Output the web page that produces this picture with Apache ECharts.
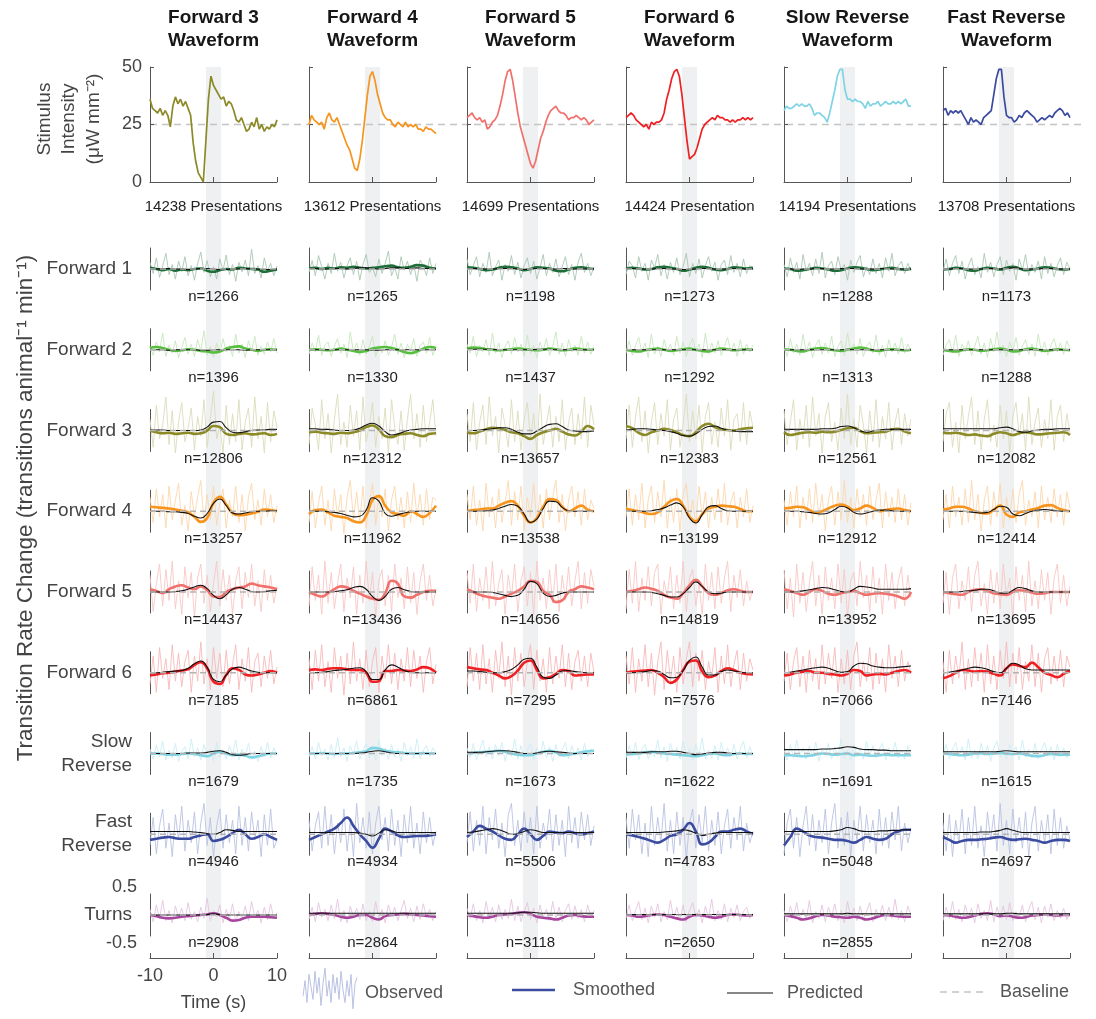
<!DOCTYPE html>
<html>
<head>
<meta charset="utf-8">
<script src="https://cdn.jsdelivr.net/npm/echarts/dist/echarts.min.js"></script>
<style>
html, body { margin: 0; padding: 0; background: #fff; }
#chart { width: 1096px; height: 1019px; }
</style>
</head>
<body>
<div id="chart"></div>
<script>
// ---------- stimulus waveforms (µW mm^-2), sampled every 0.4 s from -10 s to 10 s ----------
const waveFwd3 = [36,32,31,30,32,29,31,29,24,33,37,34,36,33,35,32,29,17,9,4,2,0,18,36,46,42,40,38,36,37,33,35,34,31,27,26,28,25,22,23,26,24,28,23,25,22,24,23,25,24,27];
const waveFwd4 = [25,29,27,26,25,26,23,28,30,27,26,28,25,22,19,16,14,10,6,5,10,18,28,38,46,48,44,38,34,30,28,27,27,25,24,26,25,24,26,24,25,24,25,23,23,22,24,23,23,22,21];
const waveFwd5 = [28,29,30,28,27,28,26,27,23,24,26,27,29,33,38,44,48,49,44,37,30,24,20,16,12,8,6,9,14,19,22,26,29,31,32,33,31,30,30,29,27,28,28,29,28,27,28,27,25,26,27];
const waveFwd6 = [28,29,30,29,27,26,25,24,25,23,26,25,26,26,27,30,36,40,45,48,49,46,38,28,18,10,11,12,15,19,23,25,26,27,28,27,29,28,28,27,27,26,27,26,27,27,28,27,28,27,28];
const waveSlowRev = [31,33,32,32,33,34,33,34,33,33,34,32,29,30,30,29,28,26,30,35,40,46,49,49,40,36,36,35,36,35,35,34,32,35,33,34,34,35,33,34,35,34,34,35,34,35,34,35,36,33,33];
const waveFastRev = [31,32,29,31,30,31,30,31,29,27,25,28,26,27,26,25,28,29,30,31,38,45,49,49,37,29,28,28,26,27,29,28,30,31,30,29,28,26,27,28,27,28,29,28,30,31,32,31,29,30,28];

const waveTitles = ['Forward 3\nWaveform', 'Forward 4\nWaveform', 'Forward 5\nWaveform', 'Forward 6\nWaveform', 'Slow Reverse\nWaveform', 'Fast Reverse\nWaveform'];
const presentations = ['14238 Presentations', '13612 Presentations', '14699 Presentations', '14424 Presentation', '14194 Presentations', '13708 Presentations'];
const waveTicks = [0, 25, 50];
const baselineIntensity = 25;
const stimBand = [-1.2, 1.2];
const timeRange = [-10, 10];

// ---------- behavioural responses, in 0.01 transitions animal^-1 min^-1 ----------
// observed: every 0.5 s; smoothed and predicted: every 1 s
const rowNames = ['Forward 1', 'Forward 2', 'Forward 3', 'Forward 4', 'Forward 5', 'Forward 6', 'Slow\nReverse', 'Fast\nReverse', 'Turns'];

const nF1 = [1266, 1265, 1198, 1273, 1288, 1173];
const nF2 = [1396, 1330, 1437, 1292, 1313, 1288];
const nF3 = [12806, 12312, 13657, 12383, 12561, 12082];
const nF4 = [13257, 11962, 13538, 13199, 12912, 12414];
const nF5 = [14437, 13436, 14656, 14819, 13952, 13695];
const nF6 = [7185, 6861, 7295, 7576, 7066, 7146];
const nSR = [1679, 1735, 1673, 1622, 1691, 1615];
const nFR = [4946, 4934, 5506, 4783, 5048, 4697];
const nT  = [2908, 2864, 3118, 2650, 2855, 2708];

const obsF1 = [
  [12,-8,20,-15,5,28,-10,8,-18,14,-5,22,-12,6,-20,10,30,-6,15,-14,4,-18,18,-3,25,-10,8,-22,12,-5,16,-12,35,-8,6,-16,20,-4,10,-12,5],
  [-6,15,-12,24,4,-18,10,-8,28,-4,12,-16,6,20,-10,14,-20,8,26,-6,2,-14,18,-8,10,32,-12,4,-18,22,-2,14,-10,8,-22,16,6,-12,20,-8,10],
  [18,-10,6,22,-14,10,-6,30,-12,4,16,-20,8,-4,24,-10,12,-16,6,20,-8,14,-18,2,26,-12,10,-6,18,-14,4,22,-10,8,-20,12,28,-6,10,-12,4],
  [-10,14,6,-16,22,-4,10,-20,16,2,26,-12,8,-18,12,-6,20,-10,4,28,-14,10,-8,18,-16,6,22,-4,12,-20,8,16,-10,24,-6,10,-14,18,-8,6,2],
  [8,-14,20,-6,12,-18,26,-4,10,-12,18,-8,30,-16,6,14,-10,22,-2,8,-20,16,-6,12,24,-14,4,-10,18,-8,10,-16,20,-4,28,-12,6,14,-8,10,-4],
  [-4,18,-12,10,24,-8,14,-18,6,20,-10,4,-16,28,-6,12,-14,8,22,-10,16,-4,10,-20,18,-2,26,-12,8,-6,14,-18,22,-8,10,-14,6,20,-10,12,0]
];
const smF1 = [
  [2,0,-2,0,-3,-1,-2,0,1,-3,-5,-2,0,-1,2,1,0,-1,-5,-3,-1],
  [1,2,0,2,1,3,2,4,2,1,2,3,5,6,3,2,4,7,6,2,1],
  [3,2,0,-2,-1,2,4,3,1,-2,0,3,2,1,-3,-4,-1,2,3,1,0],
  [0,2,1,-1,0,3,4,2,0,-3,-1,2,4,2,-1,-2,0,3,2,1,2],
  [1,0,-3,-2,0,2,1,-1,-3,-2,1,3,2,0,-2,-1,1,2,0,-1,1],
  [-1,0,2,1,-2,-3,0,2,1,-1,2,4,1,-2,-1,1,3,2,0,-1,0]
];
const predF1 = [
  [0,0,1,1,0,0,-1,0,1,1,0,-1,-1,0,0,1,1,0,-1,-1,0],
  [1,1,0,0,1,1,0,1,2,2,1,0,1,2,2,1,1,2,1,1,1],
  [0,1,1,0,0,1,1,1,0,-1,0,1,1,0,0,1,1,0,0,0,0],
  [1,1,0,0,0,1,1,0,0,-1,-1,0,1,1,0,0,0,1,1,0,0],
  [0,0,-1,0,0,1,1,0,0,1,1,1,0,0,0,1,1,0,0,0,0],
  [0,0,1,1,0,0,0,1,1,0,1,2,1,0,0,0,1,1,0,0,0]
];

const obsF2 = [
  [6,-10,14,-4,30,-12,8,-6,16,-14,4,22,-8,10,-12,18,-2,34,-10,6,-14,12,-6,20,-4,8,-12,28,-6,10,-14,16,-2,24,-10,6,-8,14,-4,20,-6],
  [-8,12,-4,26,-10,8,14,-12,6,20,-6,10,-14,32,-4,12,-10,18,-8,6,24,-12,8,-6,16,-10,4,28,-8,12,-14,10,-2,20,-12,8,14,-6,22,-10,4],
  [10,-6,24,-12,8,-4,18,-10,30,-6,12,-14,6,16,-8,22,-4,10,-12,26,-6,8,-14,14,-2,20,-10,6,32,-8,12,-12,18,-4,8,-10,24,-6,14,-8,6],
  [-6,16,-10,8,22,-4,12,-14,28,-8,6,-12,18,-2,10,-10,24,-6,14,-12,8,20,-4,10,-14,30,-8,12,-6,16,-10,6,22,-4,12,-12,18,-8,10,-4,8],
  [4,-12,20,-6,10,-10,28,-4,14,-14,8,18,-8,12,-6,24,-12,6,16,-10,30,-4,10,-8,20,-12,6,14,-6,26,-10,8,-14,18,-4,12,-8,22,-6,10,-2],
  [-10,8,18,-6,26,-12,10,-4,16,-10,6,24,-8,12,-14,20,-4,32,-6,8,-12,14,-2,22,-10,6,18,-8,10,-12,28,-6,14,-10,8,20,-4,12,-8,16,0]
];
const smF2 = [
  [3,5,3,0,-2,-1,1,0,-2,-3,-5,-3,2,5,6,2,0,-2,0,1,0],
  [0,1,0,-1,0,2,0,-2,-4,-2,2,4,5,3,0,-4,-6,-3,2,5,3],
  [2,4,3,1,0,-1,0,1,2,1,0,-1,0,2,1,-1,0,2,1,0,1],
  [0,-2,-3,-1,1,2,0,-2,-1,1,2,0,-2,-3,0,2,1,-1,0,1,0],
  [1,0,-2,-3,0,2,3,1,-1,-2,0,2,4,2,-1,-2,0,1,0,-1,0],
  [0,-2,-3,-1,1,0,-2,-1,1,2,0,-3,-2,1,2,0,-2,-1,1,0,-1]
];
const predF2 = [
  [1,0,0,-1,0,0,0,0,-1,-1,0,0,0,0,0,-1,0,0,0,0,0],
  [0,0,0,0,0,0,0,0,0,0,-1,-1,0,0,0,0,0,0,0,0,0],
  [1,1,1,1,1,0,0,0,0,0,0,1,1,1,0,0,0,0,0,0,0],
  [0,0,0,0,0,0,0,0,0,0,0,0,0,0,0,0,0,0,0,0,0],
  [0,0,0,0,0,0,0,0,0,0,1,0,0,0,0,0,0,0,0,0,0],
  [0,0,0,0,0,0,0,0,0,0,0,0,0,0,0,0,0,0,0,0,0]
];

const obsF3 = [
  [20,-30,45,-15,10,60,-25,35,-40,15,50,-20,5,40,-35,25,-10,55,-30,20,70,-15,10,-40,45,-25,30,-20,55,-35,15,40,-30,60,-15,25,-40,50,-20,35,5],
  [-25,40,10,-35,55,-15,30,-40,20,65,-25,15,-30,45,-10,35,-35,60,-20,10,50,-30,25,-15,40,-40,55,5,-25,35,-35,20,65,-15,30,-30,45,-20,15,55,-10],
  [30,-20,50,-35,15,45,-25,60,-10,25,-40,40,10,-30,55,-20,35,-35,20,50,-15,30,-40,65,-25,10,45,-30,25,-20,55,-35,15,40,-25,30,-15,60,-30,45,10],
  [-15,45,-30,25,60,-20,35,-40,15,50,-25,30,-10,55,-35,20,40,-30,10,65,-20,35,-15,45,-40,25,50,-25,15,-30,40,-10,55,-35,20,30,-20,50,-25,35,5],
  [35,-25,15,55,-35,20,-15,45,-30,60,-10,30,-40,25,50,-20,15,-35,40,-15,65,-25,20,-30,45,10,-40,35,-20,55,-30,25,-15,50,-35,15,40,-25,30,-10,20],
  [-20,30,50,-30,15,-40,45,-15,25,60,-25,35,-35,20,55,-20,10,-30,45,-15,35,-40,25,50,-10,30,-35,60,-25,15,40,-30,20,-15,55,-35,25,45,-20,30,-5]
];
const smF3 = [
  [0,-3,-5,-4,-6,-5,-4,-6,-5,0,8,6,-6,-8,-6,-5,-7,-6,-5,-8,-6],
  [-3,-2,-4,-5,-6,-4,-5,-3,0,6,9,2,-10,-12,-8,-6,-5,-8,-10,-6,-5],
  [-3,-5,-2,2,5,4,1,-3,-5,-10,-15,-8,-3,0,3,-2,-7,-9,-2,8,2],
  [8,4,-4,-8,-3,0,3,1,-3,-8,-10,-3,8,12,6,2,1,0,2,4,5],
  [-3,-8,-6,-4,-3,-4,-2,-3,-2,1,4,5,-1,-5,-4,-3,-2,2,3,-2,-5],
  [-3,-5,-4,-6,-8,-7,-9,-10,-6,-3,-5,-8,-5,-3,-5,-7,-6,-5,-4,-3,-8]
];
const predF3 = [
  [1,1,1,0,0,0,0,0,1,6,15,16,5,-3,-4,-2,0,1,1,2,2],
  [3,3,2,2,1,0,0,1,4,10,13,8,-2,-8,-6,-2,1,2,3,3,3],
  [0,0,1,2,3,5,5,2,-3,-6,-6,-1,6,11,12,7,1,-1,-2,-2,-1],
  [1,2,3,3,2,1,0,-2,-5,-9,-10,-6,2,7,8,4,1,-1,-2,-2,-2],
  [2,2,2,2,2,2,3,3,4,7,8,5,-1,-3,-1,1,2,2,2,2,2],
  [3,3,3,3,3,3,3,3,3,5,6,3,-2,-3,-1,1,2,2,3,3,3]
];

const obsF4 = [
  [25,-20,40,-10,30,-30,45,-15,20,50,-25,10,-35,35,-10,25,55,-20,30,-15,45,-25,15,40,-30,20,-10,45,-20,30,-35,25,50,-15,20,-25,40,-10,30,-20,10],
  [-20,35,-30,15,45,-25,20,-35,40,-10,30,-40,25,55,-15,35,-20,45,-30,15,50,-25,30,-10,40,-35,20,45,-15,25,-30,35,-20,50,-10,30,-25,40,-15,25,20],
  [30,-15,45,-25,20,-35,50,-10,25,-30,40,-20,15,55,-25,35,-15,45,-35,25,-10,50,-20,30,-30,40,-15,25,55,-20,30,-35,20,45,-10,35,-25,40,-15,20,5],
  [-10,40,-25,30,-15,50,-30,20,45,-20,35,-10,55,-30,25,-20,40,-35,30,50,-15,20,-25,45,-10,35,-30,25,-15,40,-20,50,-25,15,35,-30,25,-10,40,-20,10],
  [20,-25,35,-10,45,-30,25,-15,40,-20,50,-10,30,-35,20,45,-25,35,-15,55,-20,25,-30,40,-10,30,-25,45,-15,20,50,-30,35,-10,25,-20,40,-15,30,-25,15],
  [-15,30,-30,45,-10,25,-25,40,-20,55,-15,30,-35,20,45,-25,35,-10,50,-30,25,-15,40,-20,30,55,-25,20,-10,35,-30,45,-15,25,-20,40,-10,30,-25,35,5]
];
const smF4 = [
  [8,7,6,5,3,1,-2,-10,-19,-12,15,26,12,-3,-7,-6,-4,-1,3,2,0],
  [-5,2,3,-2,-8,-10,-12,-18,-20,-8,20,27,10,-2,-5,-8,0,-5,-10,-3,10],
  [0,2,3,5,5,10,15,18,10,-8,-20,-12,8,22,20,8,0,5,10,3,0],
  [5,2,0,-3,-5,-2,8,18,22,10,-10,-18,-5,5,8,10,9,8,4,0,0],
  [5,6,8,7,2,-2,0,5,10,12,8,2,5,10,6,0,2,4,5,2,0],
  [3,5,8,8,5,0,-3,-4,3,10,-6,-10,-2,0,3,6,10,11,6,2,0]
];
const predF4 = [
  [0,0,0,-1,-1,-2,-4,-9,-12,-4,14,22,10,-3,-5,-3,-1,0,0,1,1],
  [0,0,0,-1,-2,-4,-7,-10,-9,2,24,18,-4,-9,-6,-3,-1,0,0,0,0],
  [0,0,0,1,2,5,9,12,9,-5,-20,-14,5,18,17,7,1,0,0,0,0],
  [0,0,0,0,1,3,6,11,15,8,-12,-21,-6,8,10,5,1,0,0,0,0],
  [0,0,0,-1,-2,-4,-5,-3,3,9,6,-2,-5,-3,0,2,2,1,0,0,0],
  [0,0,0,0,-1,-2,-3,-2,3,9,7,-5,-8,-4,0,2,3,2,1,0,0]
];

const obsF5 = [
  [30,-35,15,50,-25,40,-15,55,-30,20,-40,45,-10,35,-45,25,50,-20,30,-35,15,55,-25,40,-15,30,-40,20,45,-30,35,-10,50,-25,20,-35,40,-15,30,-20,10],
  [-25,45,-15,30,-40,55,-20,35,-30,15,50,-35,25,-10,45,-40,30,-20,55,-15,35,-45,20,40,-25,30,-35,50,-10,25,-30,45,-20,35,-40,20,50,-15,30,-25,5],
  [35,-20,50,-35,25,-15,45,-30,55,-25,15,40,-40,30,-10,50,-35,20,45,-25,35,-40,55,-15,25,-30,40,-20,50,-35,30,-15,45,-25,20,55,-30,35,-20,40,10],
  [-30,40,-20,55,-35,25,-15,45,-25,35,50,-40,20,-10,45,-30,30,-20,55,-35,25,40,-25,15,-40,50,-15,35,-30,45,-20,25,55,-35,30,-10,40,-25,20,-15,5],
  [40,-30,25,-45,50,-20,35,-35,15,55,-25,30,-40,45,-15,25,-30,50,-20,40,-45,20,35,-25,55,-10,30,-35,45,-20,25,-40,50,-15,35,-30,20,45,-25,30,-10],
  [-20,35,-40,25,50,-30,20,-15,45,-35,30,55,-25,15,-40,40,-20,35,-30,50,-10,25,-45,45,-15,30,-35,55,-25,20,-30,40,-15,35,-40,25,50,-20,30,-25,10]
];
const smF5 = [
  [5,2,-2,5,10,12,8,5,10,3,-8,-9,0,5,8,10,15,12,10,8,5],
  [0,-5,-8,-2,5,10,8,2,-3,-8,-12,-14,-2,20,15,-8,-10,-5,0,2,2],
  [5,0,-5,-8,-10,-12,-8,-3,2,10,20,18,2,-5,-18,-15,0,5,10,8,5],
  [0,2,5,8,6,2,-5,-10,-12,-2,12,22,10,-2,-5,-2,3,5,2,0,0],
  [5,2,-2,-5,0,5,2,-3,-5,-2,0,2,-2,-5,-3,-2,-3,-5,-8,-12,0],
  [0,-2,-4,-5,0,4,5,2,-2,-4,-5,0,3,2,-1,-3,-2,0,0,0,0]
];
const predF5 = [
  [0,0,0,0,1,2,5,9,12,6,-6,-12,-5,5,8,5,1,0,1,2,3],
  [0,0,0,0,1,2,4,8,10,5,-8,-15,-8,5,8,4,1,0,0,0,0],
  [0,0,0,0,-1,-3,-6,-8,-6,5,19,15,-2,-8,-6,-2,0,0,0,0,0],
  [0,0,0,0,-1,-3,-6,-9,-9,-3,8,18,10,0,-3,-2,0,0,0,0,0],
  [0,0,1,2,4,6,8,7,4,1,0,5,10,9,7,5,5,5,5,5,6],
  [0,0,0,1,2,3,5,5,2,-2,-2,3,8,6,2,0,0,0,0,0,0]
];

const obsF6 = [
  [-20,30,-35,45,-10,25,-30,50,-15,35,-25,20,40,-35,30,-15,55,-20,25,-30,45,-10,35,-25,40,-20,15,50,-30,25,-15,45,-35,20,35,-25,30,-10,40,-20,10],
  [25,-30,40,-15,50,-25,20,-35,45,-10,30,-40,35,-20,55,-15,25,-30,40,-25,20,45,-35,30,-10,50,-20,35,-30,25,-15,45,-25,40,-10,30,-35,20,45,-20,15],
  [-25,45,-15,35,-30,50,-20,25,-35,40,-10,55,-25,30,-40,45,-15,35,-25,20,50,-30,40,-15,25,-35,45,-20,30,-10,50,-25,35,-30,20,40,-15,30,-25,35,0],
  [30,-20,45,-35,25,-15,50,-25,35,-40,20,55,-30,40,-15,30,-35,45,-20,25,55,-25,35,-15,40,-30,20,-10,45,-35,30,-20,50,-25,15,40,-30,35,-15,25,5],
  [-15,35,-30,20,45,-25,30,-35,40,-15,25,-30,50,-20,35,-10,45,-35,25,-20,40,-30,30,55,-25,20,-15,45,-30,35,-20,25,-35,50,-10,30,-25,40,-15,20,0],
  [20,-35,40,-20,30,-10,55,-30,25,-25,45,-15,35,-35,50,-20,30,-30,40,-10,55,-25,35,-20,45,-30,20,-15,50,-25,35,-35,25,45,-20,30,-15,40,-25,30,10]
];
const smF6 = [
  [-5,-3,-1,0,2,4,6,14,19,8,-16,-20,-4,8,5,-3,-5,-3,0,3,0],
  [5,6,5,7,8,8,6,5,5,0,-16,-15,3,3,5,4,3,6,10,8,0],
  [10,8,6,5,0,-5,-10,-6,4,18,22,5,-10,-8,-2,5,3,-5,-4,-3,-3],
  [0,2,3,4,5,0,-8,-18,-12,5,20,22,2,-8,-5,3,8,5,0,-2,-3],
  [-5,-3,0,2,3,0,0,-2,-3,-5,-2,5,3,-5,-3,-2,-3,0,3,5,0],
  [-10,-6,0,5,4,2,3,2,-2,-5,8,15,12,10,18,10,0,-4,-8,-2,3]
];
const predF6 = [
  [0,0,1,2,3,4,8,16,21,10,-12,-16,-4,7,10,7,3,1,0,0,0],
  [0,0,1,2,4,5,6,8,9,2,-12,-12,5,14,10,4,1,0,0,0,0],
  [3,3,2,1,0,0,2,6,14,24,26,10,-8,-10,-4,3,4,2,1,0,0],
  [0,0,1,2,4,3,-3,-9,-8,4,22,28,10,-4,-4,2,5,3,1,0,0],
  [0,1,3,5,7,9,10,8,4,1,2,12,17,16,12,10,9,9,10,11,12],
  [0,1,3,5,8,10,9,6,2,0,8,17,14,7,5,5,5,5,5,5,5]
];

const obsSR = [
  [8,-10,15,-6,22,-12,6,-8,18,-14,4,12,-10,26,-6,10,-12,16,-4,8,-14,20,-8,6,-10,14,-2,24,-12,8,-6,18,-10,4,-14,12,-6,20,-8,10,-4],
  [-6,12,-10,20,-4,8,-12,16,-8,28,-6,10,-14,14,-2,22,-10,6,18,-8,12,-12,24,-4,10,-10,16,-6,8,-14,20,-4,12,-8,26,-10,6,14,-6,10,2],
  [10,-8,18,-12,6,24,-6,12,-10,16,-4,20,-14,8,-6,26,-10,14,-8,6,18,-12,10,-4,22,-8,12,-14,16,-6,8,20,-10,14,-4,10,-12,18,-6,8,4],
  [-8,14,-4,20,-12,8,16,-10,6,-6,24,-8,12,-14,18,-4,10,-10,22,-6,8,-12,16,-2,28,-10,6,-8,14,-12,20,-4,10,-6,16,-10,8,22,-8,12,-2],
  [6,-12,16,-8,24,-4,10,-10,14,-6,20,-14,8,-4,18,-10,12,-6,26,-8,6,-12,16,-4,10,-10,22,-6,14,-8,8,18,-12,10,-4,20,-8,6,-10,14,0],
  [-4,16,-10,8,20,-6,12,-12,26,-8,6,-10,18,-4,14,-14,10,22,-6,8,-10,16,-2,12,-12,24,-6,8,-8,18,-10,6,20,-4,12,-12,16,-6,10,-8,4]
];
const smSR = [
  [0,0,-1,-2,-2,-1,0,-1,-3,-5,0,3,0,-3,-2,-4,-7,-5,-2,0,0],
  [0,0,1,0,-1,0,0,1,2,4,10,9,5,3,2,1,0,0,1,0,0],
  [0,1,2,3,4,5,3,0,-2,-3,-3,0,3,5,2,-3,-2,0,2,4,5],
  [-2,-1,0,2,3,2,0,-1,-2,-3,-4,-5,-3,-1,0,-2,-3,-1,0,-1,-1],
  [-3,-3,-4,-5,-4,-2,0,-1,-2,-1,0,-3,-2,-3,-4,-3,-2,-3,-3,-3,-3],
  [0,-1,-2,-3,-2,0,0,-1,0,1,0,-1,0,-2,-4,-5,-3,-1,-2,-2,-2]
];
const predSR = [
  [0,0,0,0,0,0,1,1,1,2,4,5,2,-2,-3,-2,0,0,0,0,0],
  [0,0,0,0,0,0,0,0,1,2,4,5,3,1,0,0,0,0,0,0,0],
  [2,2,2,3,4,5,5,4,2,0,0,1,3,4,3,2,1,0,0,0,0],
  [2,2,2,2,3,3,3,4,4,2,0,-2,-1,1,2,2,1,0,0,0,0],
  [7,7,7,7,7,7,8,8,9,10,12,11,8,7,7,6,6,5,5,5,5],
  [3,3,3,3,3,3,3,3,3,4,5,4,3,3,3,3,3,3,3,3,3]
];

const obsFR = [
  [-20,30,-35,15,45,-25,20,-40,35,-10,50,-30,25,-15,40,-35,20,55,-20,30,-40,15,45,-25,35,-15,25,-35,50,-20,30,-30,40,-10,25,-40,35,-20,45,-25,-10],
  [25,-30,15,40,-25,50,-20,35,-35,20,-15,45,-30,25,-40,55,-15,30,-25,40,-35,20,50,-10,30,-30,45,-20,25,-40,35,-15,50,-25,20,-35,40,-15,30,-20,5],
  [-15,40,-30,25,-20,50,-35,30,-10,45,-25,20,-40,35,55,-20,25,-30,40,-15,30,-35,50,-25,20,-10,45,-30,35,-20,25,-40,50,-15,30,-25,40,-10,35,-20,15],
  [30,-25,45,-10,35,-35,20,-40,50,-20,30,-15,55,-30,25,-35,40,-20,30,-45,20,45,-25,35,-15,50,-30,25,-20,40,-35,15,45,-25,30,-10,50,-30,20,-15,5],
  [-35,20,45,-25,30,-40,15,50,-20,35,-30,25,-15,45,-35,20,55,-25,30,-20,40,-40,25,-10,50,-30,35,-15,25,-35,45,-20,30,-25,40,-10,50,-30,20,-15,10],
  [20,-30,35,-40,25,-15,45,-35,30,-20,50,-25,15,-40,40,-10,35,-30,55,-20,25,-35,45,-15,30,-25,40,-40,20,50,-30,25,-15,35,-35,45,-20,30,-25,15,-10]
];
const smFR = [
  [-10,-8,-6,-5,-7,-8,-8,-5,-2,0,-12,-10,-5,2,8,0,-8,-5,0,-5,-10],
  [-10,-5,0,5,10,20,30,15,0,-12,-24,-8,10,5,-2,-5,-4,-3,-3,-2,0],
  [-5,5,15,10,5,-2,-8,-10,0,10,0,-10,-3,5,3,2,5,2,0,2,5],
  [0,-2,-5,-8,-12,-15,-10,-3,0,8,20,5,-18,-15,-5,5,5,8,10,5,0],
  [-20,-5,10,5,-2,-5,-6,-8,-10,-10,-12,-15,-10,-5,-8,-10,-8,0,5,8,8],
  [-5,-10,-15,-12,-10,-10,-9,-8,-6,-5,-8,-10,-9,-8,-10,-12,-15,-12,-10,-10,-12]
];
const predFR = [
  [5,5,5,5,5,5,5,4,3,1,0,3,8,7,5,5,5,5,5,5,5],
  [3,3,3,3,3,3,3,3,2,0,-3,2,8,6,3,3,3,3,3,3,3],
  [3,4,6,8,10,8,4,0,1,5,8,6,3,3,3,3,3,3,3,3,3],
  [3,3,3,3,3,3,4,5,6,8,6,2,-2,0,2,3,3,3,3,3,3],
  [5,5,5,5,5,5,5,5,6,8,12,10,6,5,5,6,6,7,7,8,8],
  [3,3,3,3,3,3,4,4,5,7,10,7,4,3,3,3,3,3,3,3,3]
];

const obsT = [
  [10,-12,18,-6,26,-10,8,-14,16,-4,12,-10,22,-8,6,-12,14,-6,30,-10,8,-4,18,-14,10,-8,20,-12,6,-6,16,-10,24,-4,8,-14,14,-8,20,-6,4],
  [-8,14,-12,22,-4,10,-10,18,-6,28,-12,8,-14,16,-4,12,-8,20,-10,6,-12,24,-6,10,-14,18,-2,14,-10,8,26,-6,12,-12,16,-8,20,-4,10,-10,6],
  [12,-6,20,-10,8,-14,24,-4,14,-12,18,-8,10,-6,28,-10,16,-12,6,22,-8,12,-14,18,-4,10,-10,24,-6,14,-12,8,20,-8,16,-6,10,-12,18,-4,8],
  [-6,18,-10,8,24,-8,12,-14,16,-4,20,-12,6,-8,26,-6,14,-10,18,-12,8,22,-4,10,-14,16,-6,28,-10,8,-8,20,-12,12,-4,18,-10,6,14,-6,2],
  [8,-12,16,-4,22,-10,10,-8,26,-14,6,-6,18,-12,14,-4,20,-10,8,-14,24,-6,12,-10,16,-8,6,22,-12,10,-4,18,-10,14,-6,28,-8,8,-12,16,0],
  [-10,14,-6,24,-8,10,-12,18,-4,12,-14,20,-6,8,-10,26,-12,14,-4,16,-8,22,-10,6,-6,18,-12,10,24,-8,14,-14,16,-4,20,-10,8,-6,12,-8,4]
];
const smT = [
  [0,-2,-5,-6,-5,-3,-2,-1,0,1,3,0,-5,-10,-9,-5,-3,-3,-3,-4,-5],
  [0,2,3,2,0,-3,-5,-3,0,0,-5,-8,-2,0,1,2,1,0,-1,-2,-3],
  [0,-2,-4,-5,-3,0,1,2,4,5,2,-3,-5,-6,-8,-5,-1,0,-2,-3,-3],
  [0,-1,-3,-2,0,1,0,-3,-6,-8,-3,0,-1,-3,-5,-3,0,1,0,-1,0],
  [0,-2,-5,-8,-6,-2,0,-1,-3,-4,-5,-3,-5,-8,-6,-2,0,-1,-2,-3,-3],
  [0,-1,-3,-5,-4,-1,2,3,1,-2,-1,-3,-5,-4,-1,0,1,0,-1,0,0]
];
const predT = [
  [0,0,0,0,0,0,0,0,0,1,2,1,0,0,0,0,0,0,0,0,0],
  [3,3,3,3,3,3,3,3,3,3,3,3,3,3,3,3,3,3,3,3,3],
  [3,3,3,3,3,3,3,3,4,5,5,4,3,3,3,3,3,3,3,3,3],
  [1,1,1,1,1,1,1,1,1,1,1,1,1,1,1,1,1,1,1,1,1],
  [2,2,2,2,2,2,2,2,2,2,3,2,2,2,2,2,2,2,2,2,2],
  [2,2,2,2,2,2,2,2,2,2,3,3,2,2,2,2,2,2,2,2,2]
];

const turnsTicks = [-50, 50];
const legendTrace = [-10,15,-20,25,5,-15,30,-5,20,-25,10,35,-10,15,-20,25,-5,20,-15,30,0,-20,15,-10,25,-30,10,20];

// ---------- styling ----------
const waveColors = ['#8b8a27', '#f7941d', '#f0706c', '#ee2024', '#7fd4e4', '#3a4ba0'];
const smoothColors = ['#1e6e38', '#56c03e', '#8b8a27', '#f7941d', '#f0706c', '#ee2024', '#7fd4e4', '#3a4ba0', '#a8449e'];
const obsColors = ['#aac7b3', '#c8e7c0', '#dddbbb', '#fcd7ae', '#f8c7c5', '#f7b9ba', '#c9eef5', '#bac2e2', '#e5c4e1'];
const FONT = '"Liberation Sans", Arial, Helvetica, sans-serif';

const rows = [
  { obs: obsF1, sm: smF1, pred: predF1, n: nF1 },
  { obs: obsF2, sm: smF2, pred: predF2, n: nF2 },
  { obs: obsF3, sm: smF3, pred: predF3, n: nF3 },
  { obs: obsF4, sm: smF4, pred: predF4, n: nF4 },
  { obs: obsF5, sm: smF5, pred: predF5, n: nF5 },
  { obs: obsF6, sm: smF6, pred: predF6, n: nF6 },
  { obs: obsSR, sm: smSR, pred: predSR, n: nSR },
  { obs: obsFR, sm: smFR, pred: predFR, n: nFR },
  { obs: obsT,  sm: smT,  pred: predT,  n: nT  }
];
const waves = [waveFwd3, waveFwd4, waveFwd5, waveFwd6, waveSlowRev, waveFastRev];

// ---------- layout ----------
const colLeft = [150, 309, 467, 626, 784, 943];
const colW = 127;
const waveTop = 67, waveH = 115;
const rowCenter0 = 269, rowStep = 80.75, halfH = 21;
const bottomAxisY = 958;
const respRange = 37.5;

const grids = [], xAxes = [], yAxes = [], series = [], graphics = [];
function addGrid(grid, xa, ya) {
  grids.push(grid);
  const gi = grids.length - 1;
  const x = Object.assign({ gridIndex: gi }, xa);
  const y = Object.assign({ gridIndex: gi }, ya);
  // keep every axis on the panel edge rather than on the other axis' zero
  x.axisLine = Object.assign({ onZero: false }, x.axisLine || {});
  y.axisLine = Object.assign({ onZero: false }, y.axisLine || {});
  xAxes.push(x);
  yAxes.push(y);
  return gi;
}
const withTime = arr => arr.map((v, i) => [timeRange[0] + (timeRange[1] - timeRange[0]) * i / (arr.length - 1), v]);
const hiddenX = { type: 'value', min: timeRange[0], max: timeRange[1], show: false };
const axisLineStyle = { show: true, lineStyle: { color: '#555', width: 1 } };
function addText(x, y, text, font, fill, align, extra) {
  graphics.push(Object.assign({ type: 'text', x, y, z: 100,
    style: { text, font, fill, align, verticalAlign: 'middle' } }, extra || {}));
}

// stimulus window shading, one tall strip per column
colLeft.forEach((left) => {
  const gi = addGrid({ left, width: colW, top: waveTop, height: bottomAxisY - waveTop },
    hiddenX, { type: 'value', min: 0, max: 1, show: false });
  series.push({
    type: 'line', xAxisIndex: gi, yAxisIndex: gi, silent: true, z: 0,
    data: [[stimBand[0], 0], [stimBand[1], 0]], showSymbol: false,
    lineStyle: { opacity: 0 },
    markArea: { silent: true, itemStyle: { color: '#eef0f2' }, data: [[{ xAxis: stimBand[0] }, { xAxis: stimBand[1] }]] }
  });
});

// dashed mean-intensity line running across the waveform row
{
  const gi = addGrid({ left: colLeft[0], right: 10, top: waveTop, height: waveH },
    { type: 'value', min: 0, max: 1, show: false }, { type: 'value', min: 0, max: 50, show: false });
  series.push({
    type: 'line', xAxisIndex: gi, yAxisIndex: gi, silent: true, z: 2, showSymbol: false,
    data: [[0, baselineIntensity], [1, baselineIntensity]],
    lineStyle: { color: '#c4c4c4', width: 1.3, type: [7, 5] }
  });
}

// stimulus waveforms
waves.forEach((w, c) => {
  const gi = addGrid({ left: colLeft[c], width: colW, top: waveTop, height: waveH },
    { type: 'value', min: timeRange[0], max: timeRange[1], interval: 10, z: 3,
      axisLine: axisLineStyle, axisTick: { inside: true, length: 5, lineStyle: { color: '#555' } },
      axisLabel: { show: false }, splitLine: { show: false } },
    { type: 'value', min: waveTicks[0], max: waveTicks[2], interval: waveTicks[1] - waveTicks[0], z: 3,
      axisLine: axisLineStyle,
      axisTick: { show: true, inside: true, length: 4, lineStyle: { color: '#555' } },
      axisLabel: { show: c === 0, fontSize: 18, color: '#444', fontFamily: FONT, margin: 8 },
      splitLine: { show: false } });
  series.push({
    type: 'line', xAxisIndex: gi, yAxisIndex: gi, silent: true, z: 4, showSymbol: false, clip: false,
    data: withTime(w), lineStyle: { color: waveColors[c], width: 1.7 }
  });
  addText(colLeft[c] + colW / 2, 29.5, waveTitles[c], 'bold 19px ' + FONT, '#161616', 'center');
  graphics[graphics.length - 1].style.lineHeight = 23;
  addText(colLeft[c] + colW / 2, 207, presentations[c], '15px ' + FONT, '#222', 'center');
});

// response panels
rows.forEach((row, r) => {
  const cy = rowCenter0 + r * rowStep;
  const last = r === rows.length - 1;
  addText(132, cy, rowNames[r], '19px ' + FONT, '#444', 'right');
  graphics[graphics.length - 1].style.lineHeight = 24;
  colLeft.forEach((left, c) => {
    const xa = last ? {
      type: 'value', min: timeRange[0], max: timeRange[1], interval: 10, z: 3, position: 'bottom',
      offset: bottomAxisY - (cy + halfH),
      axisLine: axisLineStyle, axisTick: { inside: true, length: 5, lineStyle: { color: '#555' } },
      axisLabel: { show: c === 0, fontSize: 18, color: '#444', fontFamily: FONT, margin: 9 },
      splitLine: { show: false },
      name: c === 0 ? 'Time (s)' : '', nameLocation: 'middle', nameGap: 36,
      nameTextStyle: { fontSize: 18, color: '#444', fontFamily: FONT }
    } : hiddenX;
    const gi = addGrid({ left, width: colW, top: cy - halfH, height: 2 * halfH }, xa,
      { type: 'value', min: -respRange, max: respRange, z: 3,
        axisLine: axisLineStyle,
        axisTick: { show: false }, axisLabel: { show: false }, splitLine: { show: false } });
    const common = { type: 'line', xAxisIndex: gi, yAxisIndex: gi, silent: true, showSymbol: false, clip: false };
    series.push(Object.assign({}, common, { z: 3, data: withTime(row.obs[c]), lineStyle: { color: obsColors[r], width: 0.9 } }));
    series.push(Object.assign({}, common, { z: 4, smooth: 0.5, data: withTime(row.sm[c]), lineStyle: { color: smoothColors[r], width: 2.6 } }));
    series.push(Object.assign({}, common, { z: 5, smooth: 0.5, data: withTime(row.pred[c]), lineStyle: { color: '#111', width: 1.1 } }));
    series.push(Object.assign({}, common, { z: 6, data: [[timeRange[0], 0], [timeRange[1], 0]], lineStyle: { color: '#b3b3b3', width: 1.3, type: [6, 4] } }));
    addText(left + colW / 2, cy + 28, 'n=' + row.n[c], '15px ' + FONT, '#222', 'center');
  });
});

// scale labels beside the Turns row
{
  const cy = rowCenter0 + (rows.length - 1) * rowStep;
  const gi = addGrid({ left: colLeft[0], width: colW, top: cy - 28, height: 56 }, hiddenX,
    { type: 'value', min: turnsTicks[0], max: turnsTicks[1], interval: 50,
      axisLine: { show: false }, axisTick: { show: false }, splitLine: { show: false },
      axisLabel: { show: true, fontSize: 18, color: '#444', fontFamily: FONT, margin: 13,
        formatter: v => (v === 0 ? '' : String(v / 100)) } });
  series.push({ type: 'line', xAxisIndex: gi, yAxisIndex: gi, data: [], silent: true });
}

// axis titles
addText(69, 119, 'Stimulus\nIntensity\n(\u03bcW mm\u207b\u00b2)', '19px ' + FONT, '#444', 'center', { rotation: Math.PI / 2 });
graphics[graphics.length - 1].style.lineHeight = 24.5;
addText(26, 508, 'Transition Rate Change (transitions animal\u207b\u00b9 min\u207b\u00b9)', '22.5px ' + FONT, '#444', 'center', { rotation: Math.PI / 2 });

// legend
{
  const gi = addGrid({ left: 303, width: 54, top: 965, height: 50 },
    { type: 'value', min: 0, max: legendTrace.length - 1, show: false },
    { type: 'value', min: -40, max: 40, show: false });
  series.push({ type: 'line', xAxisIndex: gi, yAxisIndex: gi, silent: true, showSymbol: false,
    data: legendTrace.map((v, i) => [i, v]), lineStyle: { color: '#bac2e2', width: 1 } });
}
const legendFont = '18px ' + FONT;
addText(365, 993, 'Observed', legendFont, '#555', 'left');
graphics.push({ type: 'line', z: 100, shape: { x1: 512, y1: 990, x2: 555, y2: 990 }, style: { stroke: '#3a4ba0', lineWidth: 2.6 } });
addText(573, 990, 'Smoothed', legendFont, '#555', 'left');
graphics.push({ type: 'line', z: 100, shape: { x1: 727, y1: 993, x2: 773, y2: 993 }, style: { stroke: '#111', lineWidth: 1.1 } });
addText(787, 993, 'Predicted', legendFont, '#555', 'left');
graphics.push({ type: 'line', z: 100, shape: { x1: 940, y1: 992, x2: 987, y2: 992 }, style: { stroke: '#c4c4c4', lineWidth: 1.3, lineDash: [7, 5] } });
addText(1000, 992, 'Baseline', legendFont, '#555', 'left');

const chart = echarts.init(document.getElementById('chart'), null, { renderer: 'canvas' });
chart.setOption({
  animation: false,
  backgroundColor: '#fff',
  textStyle: { fontFamily: FONT },
  grid: grids,
  xAxis: xAxes,
  yAxis: yAxes,
  series: series,
  graphic: graphics
});
</script>
</body>
</html>
